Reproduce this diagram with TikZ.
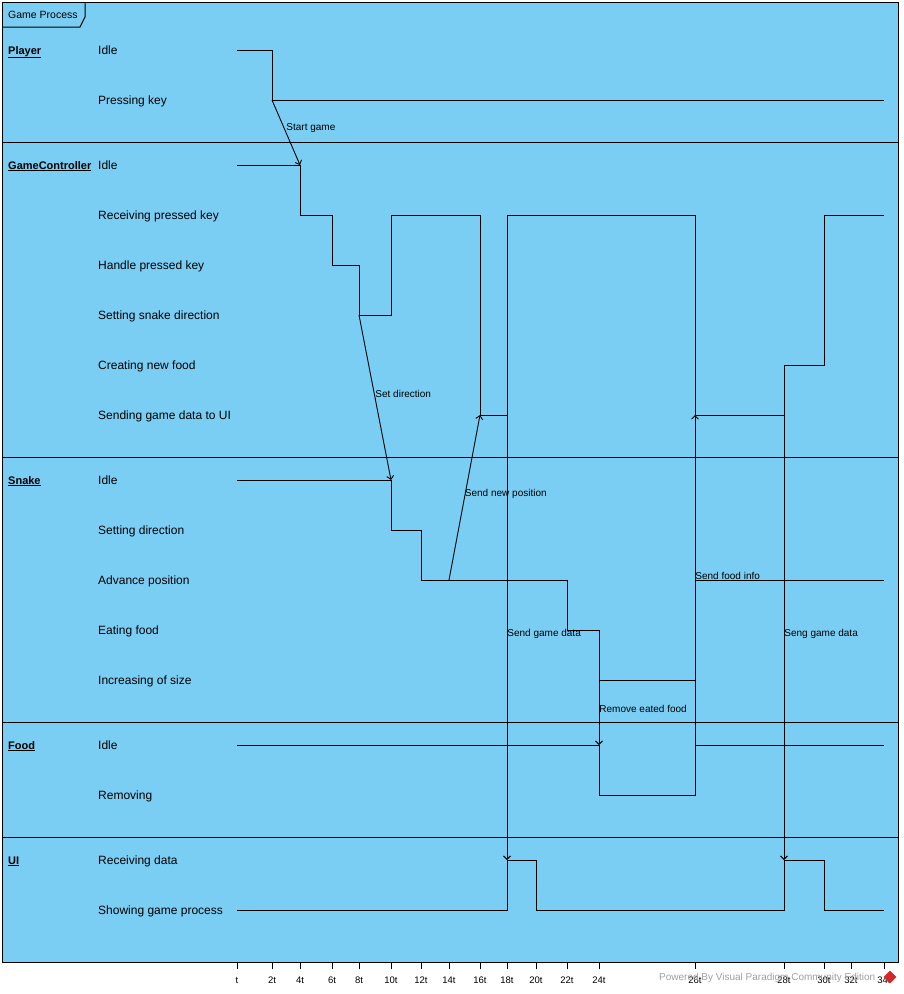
\documentclass[tikz,border=0pt]{standalone}
\usepackage{fontspec}
\setmainfont{Liberation Sans}
\usetikzlibrary{arrows.meta, positioning, calc}

\definecolor{vpblue}{RGB}{122,206,244}
\definecolor{wmgray}{RGB}{160,160,160}
\definecolor{vpred}{RGB}{214,40,40}

\begin{document}
\begin{tikzpicture}[
    x=1pt, y=-1pt,
    lane/.style={anchor=west, inner sep=0pt, text height=8pt, text depth=0pt, font=\fontsize{11}{13}\selectfont\bfseries},
    state/.style={anchor=west, inner sep=0pt, text height=8.6pt, text depth=0pt, font=\fontsize{12}{14}\selectfont},
    wave/.style={line width=1pt},
    msg/.style={line width=0.9pt, -{Straight Barb[length=3.5pt, width=7pt]}},
    msglbl/.style={anchor=west, inner sep=0pt, yshift=4pt, font=\fontsize{10}{12}\selectfont},
    ticklbl/.style={inner sep=0pt, font=\fontsize{9.5}{11}\selectfont}
]
\useasboundingbox[fill=white] (0,0) rectangle (903,994);
\draw[fill=vpblue, line width=1pt] (2,2) rectangle (898,962);
\draw[line width=1pt] (2,27) -- (80,27) -- (85,17) -- (85,2);
\node[anchor=west, inner sep=0pt, font=\fontsize{10.5}{12}\selectfont] (title) at (8,15) {Game Process};

\foreach \y in {142,457,722,837}
    \draw[line width=1pt] (2,\y) -- (898,\y);

\node[lane] (lnPlayer) at (8,50) {\underline{Player}};
\node[lane] (lnGC) at (8,165) {\underline{GameController}};
\node[lane] (lnSnake) at (8,480) {\underline{Snake}};
\node[lane] (lnFood) at (8,745) {\underline{Food}};
\node[lane] (lnUI) at (8,860) {\underline{UI}};

\node[state] (pIdle) at (98,50) {Idle};
\node[state] (pPress) at (98,100) {Pressing key};
\node[state] (gIdle) at (98,165) {Idle};
\node[state] (gRecv) at (98,215) {Receiving pressed key};
\node[state] (gHandle) at (98,265) {Handle pressed key};
\node[state] (gSetDir) at (98,315) {Setting snake direction};
\node[state] (gFood) at (98,365) {Creating new food};
\node[state] (gSend) at (98,415) {Sending game data to UI};
\node[state] (sIdle) at (98,480) {Idle};
\node[state] (sSetDir) at (98,530) {Setting direction};
\node[state] (sAdvance) at (98,580) {Advance position};
\node[state] (sEat) at (98,630) {Eating food};
\node[state] (sGrow) at (98,680) {Increasing of size};
\node[state] (fIdle) at (98,745) {Idle};
\node[state] (fRemove) at (98,795) {Removing};
\node[state] (uRecv) at (98,860) {Receiving data};
\node[state] (uShow) at (98,910) {Showing game process};

\foreach \lbl/\x/\nm in {t/237/0, 2t/272/2, 4t/300/4, 6t/332/6, 8t/359/8, 10t/391/10, 12t/421/12, 14t/449/14, 16t/480/16, 18t/507/18, 20t/536/20, 22t/567/22, 24t/599/24, 26t/695/26, 28t/784/28, 30t/824/30, 32t/851/32, 34t/884/34} {
    \coordinate (T\nm) at (\x,962);
    \draw[line width=1pt] (T\nm) -- ++(0,7);
    \node[ticklbl] (L\nm) at (\x,980) {\lbl};
}

\node[anchor=west, inner sep=0pt, text=wmgray, font=\fontsize{10}{12}\selectfont] (watermark) at (659,978) {Powered By Visual Paradigm Community Edition};
\node[fill=vpred, rotate=45, minimum size=9pt, inner sep=0pt] (logo) at (890,977) {};

\draw[wave] (T0 |- pIdle) -| (T2 |- pPress) -- (T34 |- pPress);
\draw[wave] (T0 |- gIdle) -| (T4 |- gRecv) -| (T6 |- gHandle) -| (T8 |- gSetDir) -| (T10 |- gRecv) -| (T16 |- gSend) -| (T18 |- gRecv) -| (T26 |- gSend) -| (T28 |- gFood) -| (T30 |- gRecv) -- (T34 |- gRecv);
\draw[wave] (T0 |- sIdle) -| (T10 |- sSetDir) -| (T12 |- sAdvance) -| (T22 |- sEat) -| (T24 |- sGrow) -| (T26 |- sAdvance) -- (T34 |- sAdvance);
\draw[wave] (T0 |- fIdle) -| (T24 |- fRemove) -| (T26 |- fIdle) -- (T34 |- fIdle);
\draw[wave] (T0 |- uShow) -| (T18 |- uRecv) -| (T20 |- uShow) -| (T28 |- uRecv) -| (T30 |- uShow) -- (T34 |- uShow);

\draw[msg] (T2 |- pPress) -- node[msglbl] {Start game} (T4 |- gIdle);
\draw[msg] (T8 |- gSetDir) -- node[msglbl] {Set direction} (T10 |- sIdle);
\draw[msg] (T14 |- sAdvance) -- node[msglbl] {Send new position} (T16 |- gSend);
\draw[msg] (T18 |- gSend) -- node[msglbl] {Send game data} (T18 |- uRecv);
\draw[msg] (T24 |- sGrow) -- node[msglbl] {Remove eated food} (T24 |- fIdle);
\draw[msg] (T26 |- fIdle) -- node[msglbl] {Send food info} (T26 |- gSend);
\draw[msg] (T28 |- gSend) -- node[msglbl] {Seng game data} (T28 |- uRecv);
\end{tikzpicture}
\end{document}
